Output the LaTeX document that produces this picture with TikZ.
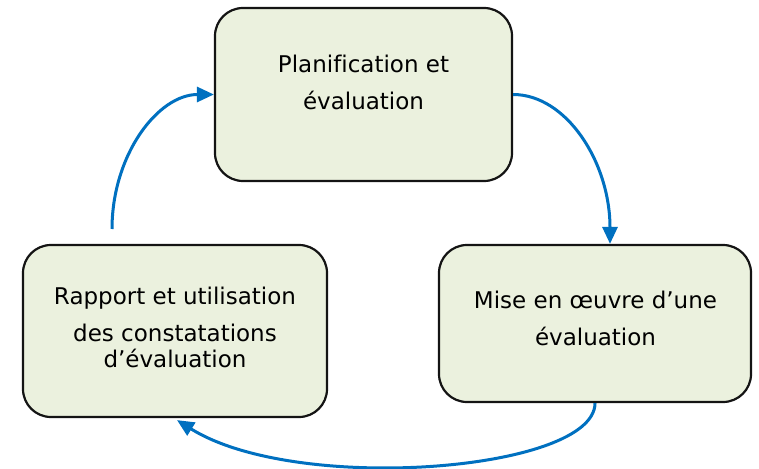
\documentclass[tikz,border=0pt]{standalone}
\usepackage{fontspec}
\setmainfont{DejaVu Sans}[Ligatures=NoCommon]
\usetikzlibrary{arrows.meta}
\definecolor{boxfill}{HTML}{EBF1DE}
\definecolor{boxline}{HTML}{141414}
\definecolor{flow}{HTML}{0070C0}
\begin{document}
\begin{tikzpicture}[x=1pt,y=-1pt,
  stage/.style={draw=boxline, line width=2.2pt, fill=boxfill,
    rounded corners=28pt, inner sep=0pt},
  caption/.style={font=\fontsize{23}{37}\selectfont, align=center,
    inner sep=0pt, anchor=base},
  flowarrow/.style={draw=flow, line width=3pt,
    -{Triangle[length=17pt,width=15pt]}}]
  \useasboundingbox (0,0) rectangle (759,468);

  % the three stages of the cycle
  \node[stage, minimum width=297pt, minimum height=173pt] (plan) at (363.5,94.5) {};
  \node[stage, minimum width=312pt, minimum height=157pt] (exec) at (595,323.5) {};
  \node[stage, minimum width=304pt, minimum height=172pt] (report) at (175,331) {};

  % captions, placed by the baseline of their last line
  \node[caption] (plan-text) at (363.5,110) {Planification et\\évaluation};
  \node[caption] (exec-text) at (595.5,345) {Mise en œuvre d’une\\évaluation};
  \node[caption] (report-text) at (175,367)
    {Rapport et utilisation\\des constatations\\[-11pt]d’évaluation};

  % cycle connectors
  \coordinate (loop-start) at (112,229);
  \draw[flowarrow] (plan.east)
    .. controls +(53,0) and +(0,-82) .. ([xshift=15pt]exec.north);
  \draw[flowarrow] (exec.south)
    .. controls +(0,68) and +(120,75) .. ([shift={(2,2)}]report.south);
  \draw[flowarrow] (loop-start)
    .. controls +(0,-74) and +(-56,0) .. (plan.west);
\end{tikzpicture}
\end{document}
